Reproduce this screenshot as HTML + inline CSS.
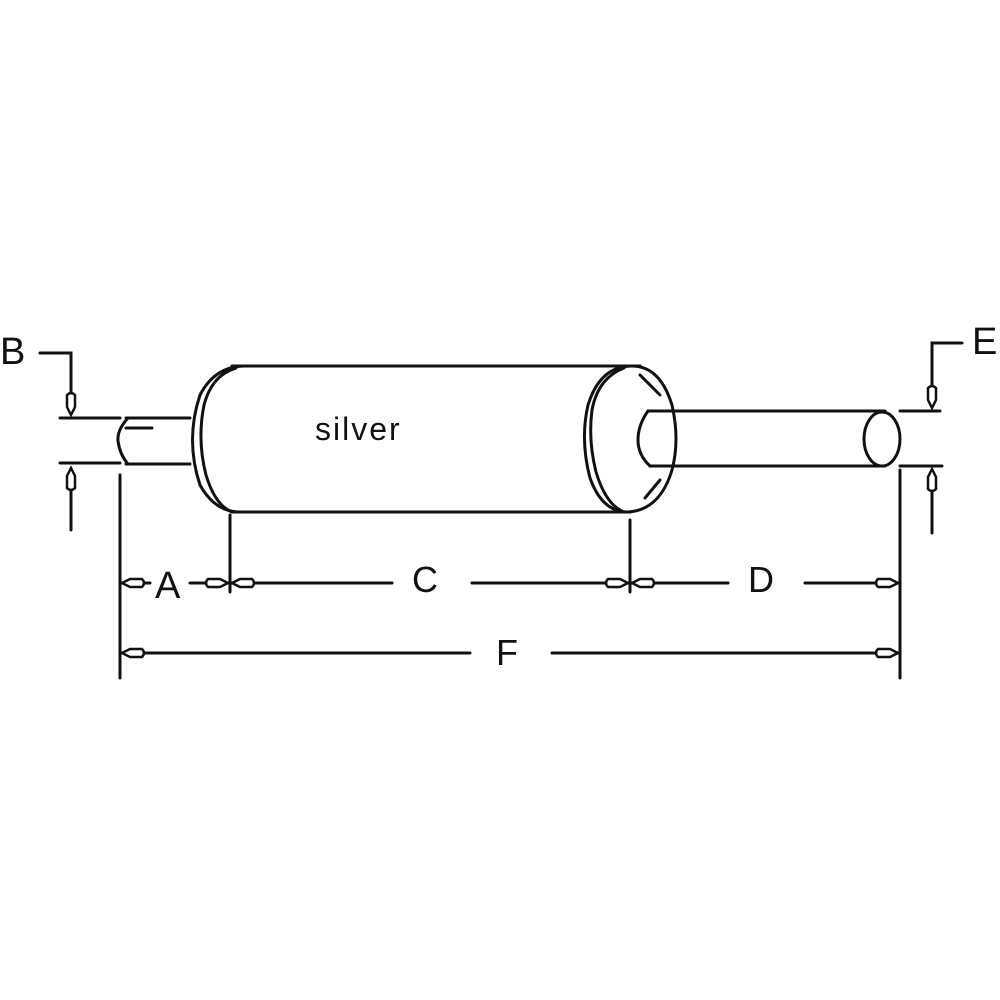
<!DOCTYPE html>
<html><head><meta charset="utf-8"><style>
html,body{margin:0;padding:0;background:#fff;}
svg{display:block}
text{font-family:"Liberation Sans",Arial,sans-serif;fill:#111;}
</style></head><body>
<svg width="1000" height="1000" viewBox="0 0 1000 1000" xmlns="http://www.w3.org/2000/svg">
<defs>
<path id="ah" d="M0,0 L8,-4 L20,-4 Q24,0 20,4 L8,4 Z" fill="#fff" stroke="#111" stroke-width="2.5"/>
</defs>
<g stroke="#111" stroke-width="3" fill="none" stroke-linecap="round">
<!-- left pipe -->
<line x1="60" y1="418" x2="120" y2="418"/>
<line x1="60" y1="463" x2="120" y2="463"/>
<line x1="126" y1="418" x2="190" y2="418"/>
<line x1="126" y1="464" x2="190" y2="464"/>
<path d="M128,418 Q117,430 118,441 Q120,455 128,464"/>
<line x1="126" y1="428" x2="152" y2="428"/>
<!-- B arrow -->
<path d="M40,353 L71,353 L71,392"/>
<line x1="71" y1="490" x2="71" y2="530"/>
<!-- muffler body -->
<line x1="232" y1="366" x2="640" y2="366"/>
<line x1="232" y1="512" x2="630" y2="512"/>
<path d="M245,366 Q215,366 200,395 Q185,440 200,485 Q215,512 240,512"/>
<path d="M236,368 Q212,375 204,405 Q197,440 206,475 Q215,505 232,512"/>
<!-- right cap -->
<path d="M632,366 Q600,366 588,405 Q580,440 590,478 Q602,512 628,512 Q660,510 672,470 Q680,440 672,405 Q660,366 632,366"/>
<path d="M624,368 Q598,378 592,410 Q588,440 596,472 Q606,505 624,512"/>
<path d="M640,375 L660,395 M645,498 L660,480"/>
<!-- right pipe -->
<line x1="648" y1="411" x2="885" y2="411"/>
<line x1="650" y1="466" x2="885" y2="466"/>
<path d="M648,411 Q638,425 638,440 Q638,455 650,466"/>
<ellipse cx="882" cy="439" rx="18" ry="27"/>
<line x1="900" y1="411" x2="940" y2="411"/>
<line x1="900" y1="466" x2="942" y2="466"/>
<!-- E arrow -->
<path d="M962,343 L932,343 L932,385"/>
<line x1="932" y1="493" x2="932" y2="533"/>
<!-- extension lines -->
<line x1="120" y1="475" x2="120" y2="678"/>
<line x1="230" y1="515" x2="230" y2="592"/>
<line x1="630" y1="520" x2="630" y2="592"/>
<line x1="900" y1="470" x2="900" y2="678"/>
<!-- dim lines -->
<line x1="120" y1="583" x2="150" y2="583"/>
<line x1="190" y1="583" x2="258" y2="583"/>
<line x1="258" y1="583" x2="392" y2="583"/>
<line x1="472" y1="583" x2="630" y2="583"/>
<line x1="630" y1="583" x2="728" y2="583"/>
<line x1="805" y1="583" x2="900" y2="583"/>
<line x1="120" y1="653" x2="470" y2="653"/>
<line x1="552" y1="653" x2="900" y2="653"/>
</g>
<!-- arrowheads -->
<use href="#ah" transform="translate(71,415) rotate(-90)"/>
<use href="#ah" transform="translate(71,468) rotate(90)"/>
<use href="#ah" transform="translate(932,408) rotate(-90)"/>
<use href="#ah" transform="translate(932,469) rotate(90)"/>
<use href="#ah" transform="translate(122,583)"/>
<use href="#ah" transform="translate(228,583) rotate(180)"/>
<use href="#ah" transform="translate(232,583)"/>
<use href="#ah" transform="translate(628,583) rotate(180)"/>
<use href="#ah" transform="translate(632,583)"/>
<use href="#ah" transform="translate(898,583) rotate(180)"/>
<use href="#ah" transform="translate(122,653)"/>
<use href="#ah" transform="translate(898,653) rotate(180)"/>
<!-- labels -->
<text x="0" y="364" font-size="38">B</text>
<text x="972" y="354" font-size="38">E</text>
<text x="155" y="598" font-size="38">A</text>
<text x="412" y="592" font-size="36">C</text>
<text x="748" y="592" font-size="36">D</text>
<text x="496" y="665" font-size="36">F</text>
<text x="315" y="440" font-size="32" letter-spacing="2">silver</text>
</svg>
</body></html>
